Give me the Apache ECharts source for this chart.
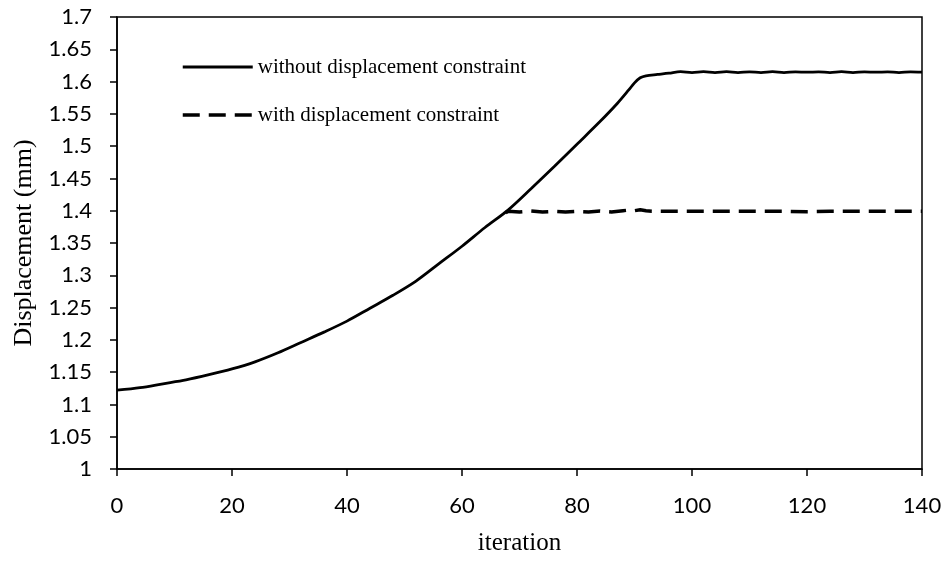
<!DOCTYPE html>
<html>
<head>
<meta charset="utf-8">
<script src="https://cdn.jsdelivr.net/npm/echarts@6/dist/echarts.min.js"></script>
<style>html,body{margin:0;padding:0;background:#fff}#c{width:947px;height:561px}</style>
</head>
<body>
<div id="c"></div>
<script>
var iterWithout = [0,4,8,12,16,20,24,28,32,36,40,44,48,52,56,60,64,68,72,76,80,84,87,89,90,91,92,94,96,98,100,102,104,106,108,110,112,114,116,118,120,122,124,126,128,130,132,134,136,138,140];
var dispWithout = [1.122,1.126,1.132,1.138,1.146,1.155,1.166,1.180,1.196,1.212,1.229,1.249,1.269,1.291,1.318,1.345,1.374,1.401,1.434,1.468,1.503,1.538,1.566,1.587,1.598,1.606,1.609,1.611,1.613,1.6155,1.614,1.6155,1.614,1.6155,1.614,1.615,1.614,1.6155,1.614,1.615,1.6145,1.615,1.614,1.6155,1.614,1.615,1.6145,1.615,1.614,1.615,1.6145];
var iterWith = [67.6,68,70,72,74,76,78,80,82,84,86,88,89,90,91,92,93,94,96,100,104,108,112,116,120,124,128,132,136,140];
var dispWith = [1.397,1.399,1.398,1.3995,1.398,1.399,1.398,1.399,1.398,1.3995,1.398,1.400,1.401,1.400,1.4015,1.400,1.399,1.399,1.399,1.399,1.399,1.399,1.399,1.399,1.3985,1.399,1.399,1.399,1.399,1.399];
var seriesNames = ['without displacement constraint','with displacement constraint'];

function pairs(xs, ys){ return xs.map(function(x,i){ return [x, ys[i]]; }); }

var chart = echarts.init(document.getElementById('c'), null, {renderer:'canvas'});
chart.setOption({
  animation:false,
  backgroundColor:'#fff',
  grid:{left:117,right:25,top:17,bottom:91,show:true,borderColor:'#000',borderWidth:1.5,backgroundColor:'transparent'},
  legend:{
    left:176, top:50, orient:'vertical', itemWidth:70, itemHeight:24, itemGap:24,
    data:[
      {name:seriesNames[0], lineStyle:{width:3,type:'solid',color:'#000'}},
      {name:seriesNames[1], lineStyle:{width:3.5,type:[17,9],color:'#000'}}
    ],
    textStyle:{fontFamily:'Liberation Serif',fontSize:21,color:'#000',lineHeight:24,padding:[0,0,0,0]},
    itemStyle:{opacity:0}
  },
  xAxis:{
    type:'value', min:0, max:140, interval:20,
    name:'iteration', nameLocation:'middle', nameGap:62,
    nameTextStyle:{fontFamily:'Liberation Serif',fontSize:25,color:'#000'},
    axisLine:{lineStyle:{color:'#000',width:1.5}},
    axisTick:{show:true,inside:false,length:7,lineStyle:{color:'#000',width:1.5}},
    axisLabel:{fontFamily:'Lato',fontSize:22,color:'#000',margin:26},
    splitLine:{show:false}
  },
  yAxis:{
    type:'value', min:1, max:1.7, interval:0.05,
    name:'Displacement (mm)', nameLocation:'middle', nameGap:78,
    nameTextStyle:{fontFamily:'Liberation Serif',fontSize:26,color:'#000'},
    axisLine:{show:true,lineStyle:{color:'#000',width:1.5}},
    axisTick:{show:true,inside:false,length:7,lineStyle:{color:'#000',width:1.5}},
    axisLabel:{fontFamily:'Lato',fontSize:22,color:'#000',margin:25},
    splitLine:{show:false}
  },
  series:[
    {name:seriesNames[1], type:'line', data:pairs(iterWith,dispWith), showSymbol:false, symbol:'none', z:2,
     lineStyle:{color:'#000',width:3.5,type:[17,9]}, itemStyle:{color:'#000'}},
    {name:seriesNames[0], type:'line', data:pairs(iterWithout,dispWithout), showSymbol:false, symbol:'none', z:3,
     smooth:0.3,
     lineStyle:{color:'#000',width:2.8,type:'solid'}, itemStyle:{color:'#000'}}
  ]
});
</script>
</body>
</html>
